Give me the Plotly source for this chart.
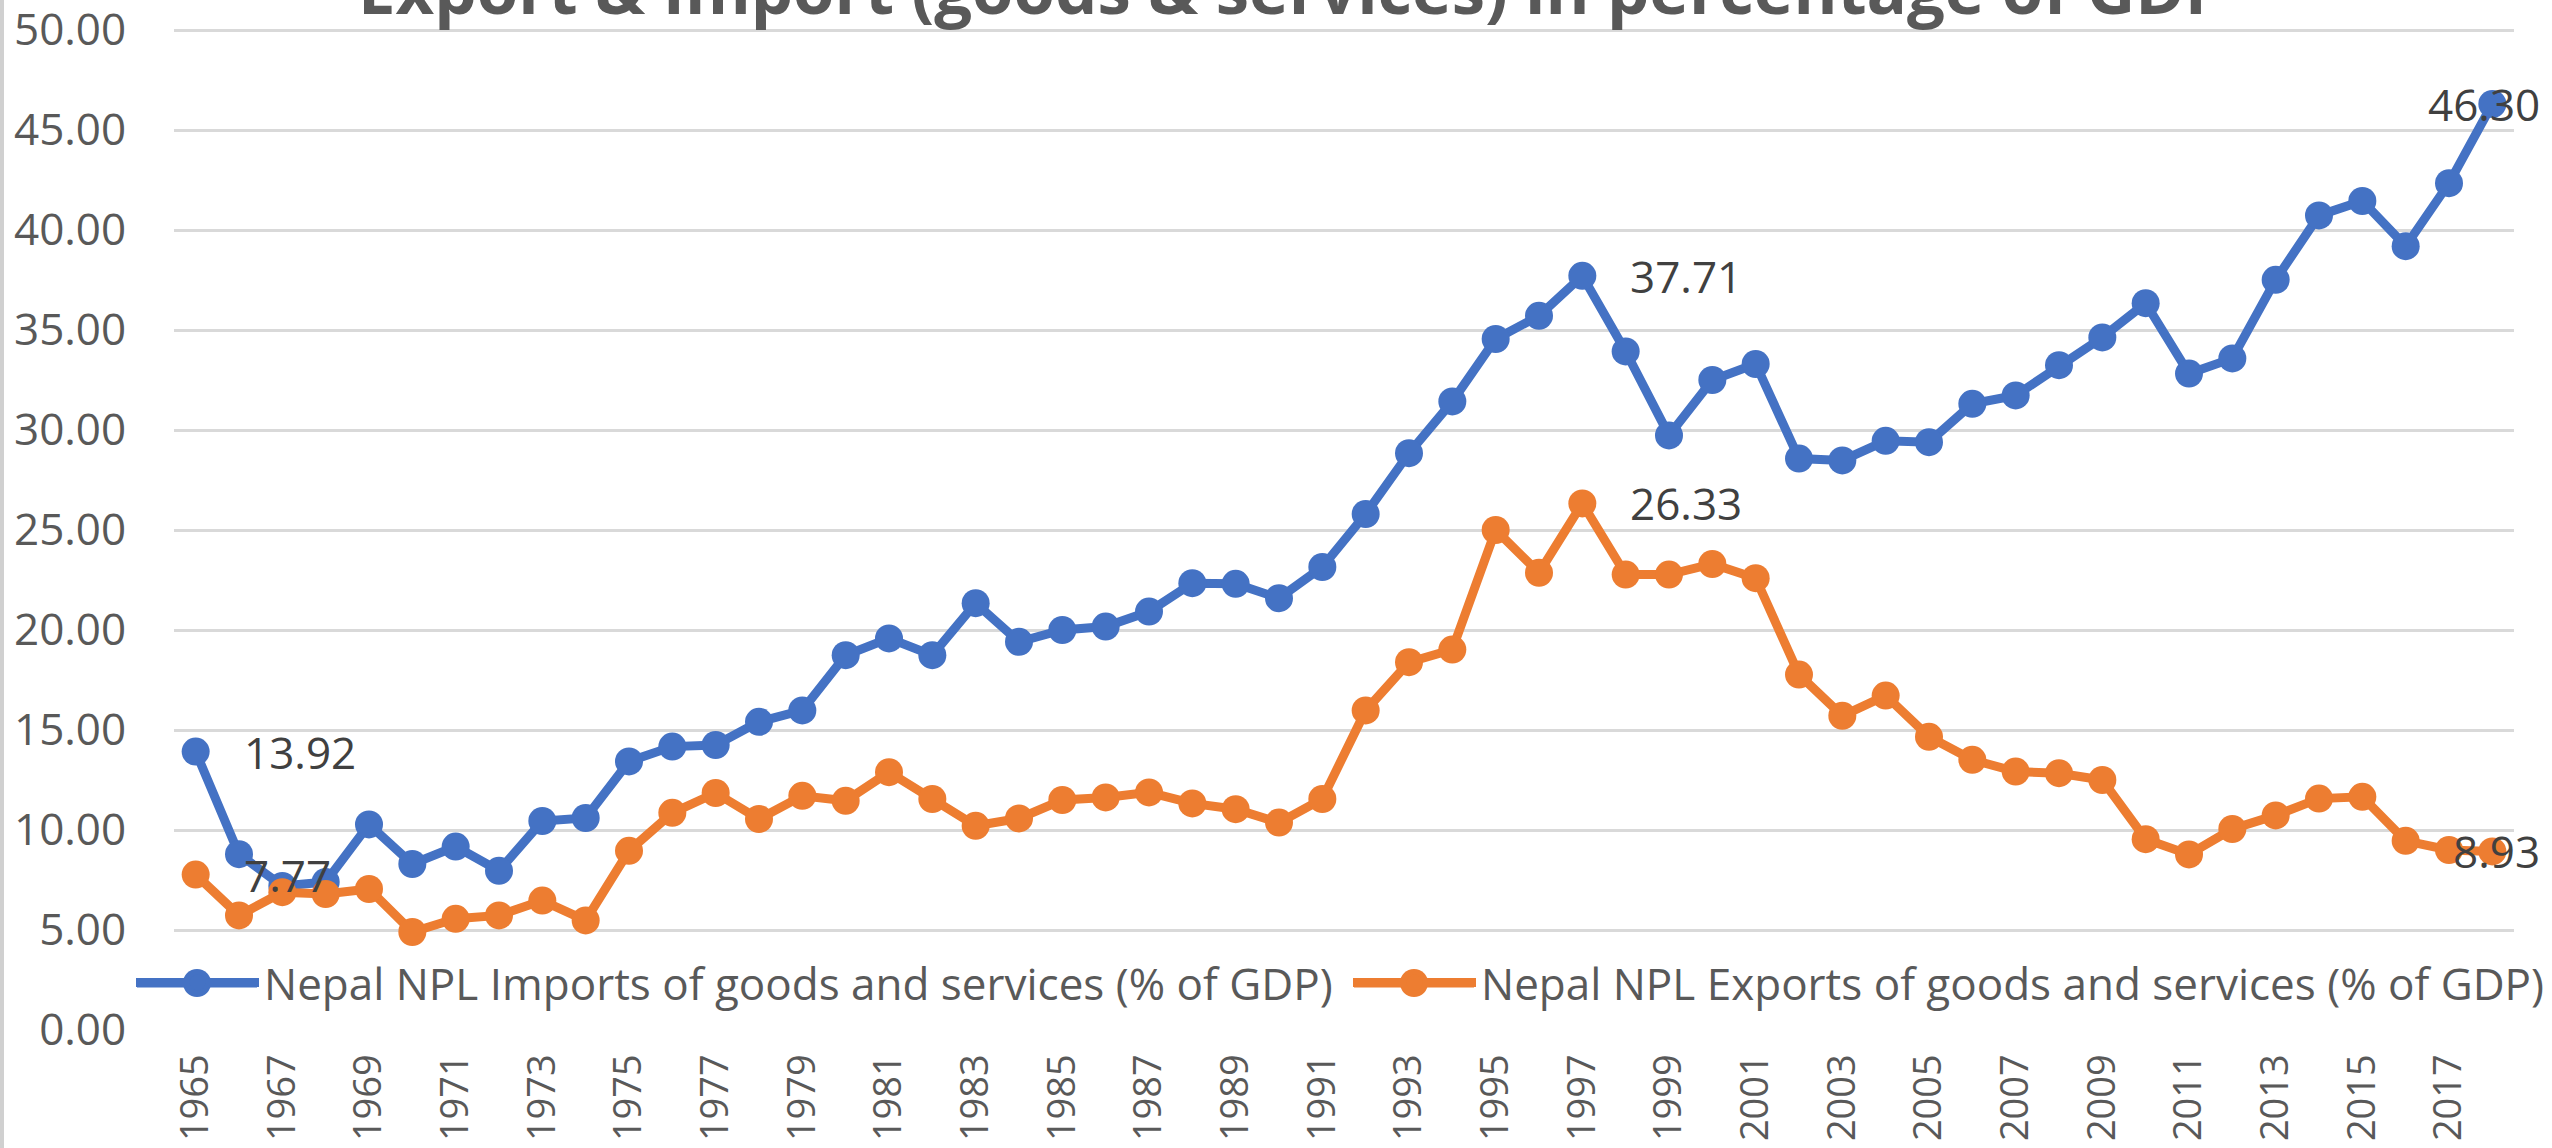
import plotly.graph_objects as go

years = list(range(1965, 2019))
imports = [13.92, 8.79, 7.2, 7.4, 10.28, 8.3, 9.17, 7.96, 10.45, 10.6,
           13.43, 14.17, 14.25, 15.41, 15.98, 18.74, 19.58, 18.74, 21.34, 19.41,
           20.0, 20.17, 20.92, 22.34, 22.31, 21.59, 23.15, 25.8, 28.84, 31.43,
           34.55, 35.71, 37.71, 33.93, 29.73, 32.5, 33.3, 28.57, 28.48, 29.46,
           29.39, 31.31, 31.73, 33.24, 34.63, 36.34, 32.82, 33.58, 37.51, 40.73,
           41.45, 39.19, 42.34, 46.30]
exports = [7.77, 5.73, 6.89, 6.8, 7.05, 4.9, 5.56, 5.73, 6.47, 5.48,
           8.96, 10.86, 11.85, 10.55, 11.71, 11.46, 12.89, 11.55, 10.21, 10.58,
           11.5, 11.63, 11.88, 11.33, 11.04, 10.37, 11.55, 15.98, 18.39, 19.02,
           25.0, 22.86, 26.33, 22.77, 22.77, 23.3, 22.59, 17.77, 15.71, 16.72,
           14.66, 13.51, 12.92, 12.84, 12.5, 9.54, 8.78, 10.05, 10.73, 11.57,
           11.66, 9.46, 9.0, 8.93]
series_names = ["Nepal NPL Imports of goods and services (% of GDP)",
                "Nepal NPL Exports of goods and services (% of GDP)"]
title_text = "Export & Import (goods & services) in percentage of GDP"
y_ticks = [0, 5, 10, 15, 20, 25, 30, 35, 40, 45, 50]
x_ticks = years[::2]
# (series index, year) pairs that carry a value label
labelled = [(0, 1965), (1, 1965), (0, 1997), (1, 1997), (0, 2018), (1, 2018)]

FONT = "Open Sans"
GRAY = "#595959"
LABEL = "#404040"
colors = ["#4472C4", "#ED7D31"]

W, H = 2552, 1148
ML, MR, MT, MB = 174, 38, 10, 118
PW, PH = W - ML - MR, H - MT - MB
Y_RANGE = [0, 51]


def px_x(p):
    return (p - ML) / PW


def px_y(p):
    return (H - MB - p) / PH


fig = go.Figure()
legend_ids = ["legend", "legend2"]
for name, vals, col, lid in zip(series_names, [imports, exports], colors, legend_ids):
    fig.add_trace(go.Scatter(
        x=years, y=vals, name=name, mode="lines+markers",
        line=dict(color=col, width=9),
        marker=dict(color=col, size=28, symbol="circle"),
        cliponaxis=False, legend=lid,
    ))

data = [imports, exports]
annotations = []
for si, yr in labelled:
    v = data[si][years.index(yr)]
    last = yr == years[-1]
    annotations.append(dict(x=yr, y=v, xref="x", yref="y", text=f"{v:.2f}",
                            showarrow=False, xanchor="right" if last else "left",
                            yanchor="middle", xshift=50 if last else 46,
                            font=dict(family=FONT, size=44, color=LABEL)))

annotations.append(dict(x=px_x(1292), y=px_y(36), xref="paper", yref="paper",
                        text=f"<b>{title_text}</b>",
                        showarrow=False, xanchor="center", yanchor="bottom",
                        font=dict(family=FONT, size=67, color=GRAY)))

# legend sample overlays (thick line + big marker like the reference)
shapes = [dict(type="line", xref="paper", yref="paper",
               x0=px_x(2), x1=px_x(2), y0=px_y(H), y1=px_y(0),
               line=dict(color="#d0d0d0", width=4))]
for col, (l0, l1) in zip(colors, [(137, 257), (1354, 1474)]):
    yc = px_y(983)
    shapes.append(dict(type="line", xref="paper", yref="paper", layer="above",
                       x0=px_x(l0), x1=px_x(l1), y0=yc, y1=yc,
                       line=dict(color=col, width=9)))
    cx = (l0 + l1) / 2
    shapes.append(dict(type="circle", xref="paper", yref="paper", layer="above",
                       x0=px_x(cx - 14), x1=px_x(cx + 14),
                       y0=px_y(983 + 14), y1=px_y(983 - 14),
                       fillcolor=col, line=dict(color=col, width=0)))

leg_common = dict(orientation="h", yanchor="middle", xanchor="left", y=px_y(983),
                  bgcolor="rgba(0,0,0,0)", itemwidth=123,
                  font=dict(family=FONT, size=44, color=GRAY))

fig.update_layout(
    width=W, height=H,
    margin=dict(l=ML, r=MR, t=MT, b=MB, autoexpand=False),
    paper_bgcolor="white", plot_bgcolor="white",
    font=dict(family=FONT, size=44, color=GRAY),
    showlegend=True,
    legend=dict(x=px_x(131), **leg_common),
    legend2=dict(x=px_x(1348), **leg_common),
    annotations=annotations,
    shapes=shapes,
)
fig.update_xaxes(range=[1964.5, 2018.5], tickmode="array", tickvals=x_ticks,
                 ticktext=[str(t) for t in x_ticks], tickangle=-90,
                 showgrid=False, zeroline=False, showline=False, automargin=False,
                 ticks="outside", ticklen=8, tickcolor="rgba(0,0,0,0)",
                 ticklabeloverflow="allow",
                 tickfont=dict(family=FONT, size=38, color=GRAY))
fig.update_yaxes(range=Y_RANGE, tickmode="array", tickvals=y_ticks,
                 ticktext=[f"{t:.2f}" for t in y_ticks],
                 showgrid=True, gridcolor="#d9d9d9", gridwidth=3,
                 zeroline=False, showline=False, automargin=False,
                 ticks="outside", ticklen=38, tickcolor="rgba(0,0,0,0)",
                 ticklabeloverflow="allow",
                 tickfont=dict(family=FONT, size=44, color=GRAY))

fig.write_html("out.html", config={"displayModeBar": False},
               post_script="document.body.style.margin='0';document.body.style.overflow='hidden';")
